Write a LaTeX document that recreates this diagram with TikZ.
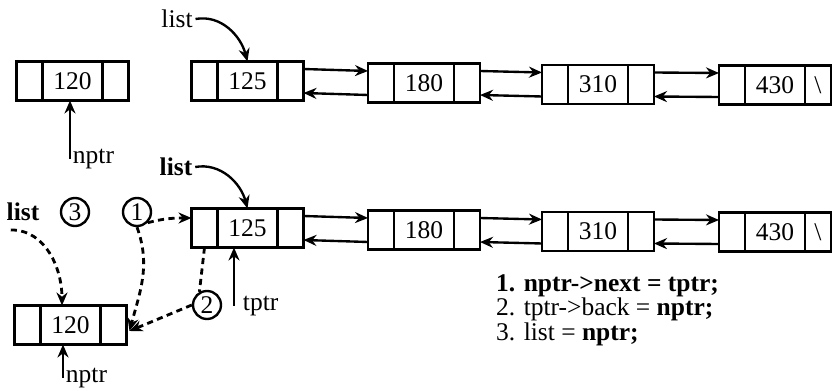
\documentclass[tikz,border=0pt]{standalone}
\usepackage{fontspec}
\setmainfont{Liberation Serif}
\usetikzlibrary{arrows.meta, positioning}
\tikzset{
  every picture/.style={font=\fontsize{14.5}{16}\selectfont, line width=1.35pt},
  datafield/.style={draw, minimum width=1.2cm, minimum height=0.78cm, inner sep=0pt, outer sep=0pt},
  linkfield/.style={draw, minimum width=0.52cm, minimum height=0.78cm, inner sep=0pt, outer sep=0pt},
  ptrname/.style={inner sep=1pt},
  numcircle/.style={draw, circle, minimum size=0.56cm, inner sep=0pt},
  codeblock/.style={anchor=north west, align=left, inner sep=0pt, font=\fontsize{14.5}{12.6}\selectfont},
  arrow/.style={-{Stealth[length=2.6mm, width=2.2mm]}},
  dashline/.style={dash pattern=on 3.5pt off 2.5pt, line width=1.6pt},
  dasharrow/.style={dashline, -{Stealth[length=2.6mm, width=2.2mm]}},
}
% one node of the doubly linked list: back | value | next
\newcommand\dllnode[4]{%
  \node[datafield] (#1) at (#2) {#3};
  \node[linkfield, left=0pt of #1] (#1l) {};
  \node[linkfield, right=0pt of #1] (#1r) {#4};
}
\begin{document}
\begin{tikzpicture}[x=0.02cm, y=-0.02cm]
  \useasboundingbox (0,0) rectangle (832,391);
  % top row: new node and the list
  \dllnode{t120}{72.5,81}{120}{}
  \dllnode{t125}{247.5,81}{125}{}
  \dllnode{t180}{424,83}{180}{}
  \dllnode{t310}{598,84.5}{310}{}
  \dllnode{t430}{775,85}{430}{\textbackslash}
  \draw[arrow] ([yshift=0.24cm]t125r.east) -- ([yshift=0.24cm]t180l.west); \draw[arrow] ([yshift=-0.24cm]t180l.west) -- ([yshift=-0.24cm]t125r.east);
  \draw[arrow] ([yshift=0.24cm]t180r.east) -- ([yshift=0.24cm]t310l.west); \draw[arrow] ([yshift=-0.24cm]t310l.west) -- ([yshift=-0.24cm]t180r.east);
  \draw[arrow] ([yshift=0.24cm]t310r.east) -- ([yshift=0.24cm]t430l.west); \draw[arrow] ([yshift=-0.24cm]t430l.west) -- ([yshift=-0.24cm]t310r.east);
  \node[ptrname] (listt) at (177,19) {list};
  \draw[arrow] (listt.east) to[out=10, in=105] (t125.north);
  \node[ptrname, anchor=west] (nptrt) at (70,159) {nptr};
  \draw[arrow] (nptrt.west) -- (nptrt.west |- t120.south);
  % bottom row: node inserted in front of the list
  \dllnode{b120}{70.5,325}{120}{}
  \dllnode{b125}{247.5,228}{125}{}
  \dllnode{b180}{424,230}{180}{}
  \dllnode{b310}{598,231.5}{310}{}
  \dllnode{b430}{775,232}{430}{\textbackslash}
  \draw[arrow] ([yshift=0.24cm]b125r.east) -- ([yshift=0.24cm]b180l.west); \draw[arrow] ([yshift=-0.24cm]b180l.west) -- ([yshift=-0.24cm]b125r.east);
  \draw[arrow] ([yshift=0.24cm]b180r.east) -- ([yshift=0.24cm]b310l.west); \draw[arrow] ([yshift=-0.24cm]b310l.west) -- ([yshift=-0.24cm]b180r.east);
  \draw[arrow] ([yshift=0.24cm]b310r.east) -- ([yshift=0.24cm]b430l.west); \draw[arrow] ([yshift=-0.24cm]b430l.west) -- ([yshift=-0.24cm]b310r.east);
  \node[ptrname, font=\fontsize{14.5}{16}\selectfont\bfseries] (listb) at (176,167) {list};
  \draw[arrow] (listb.east) to[out=10, in=105] (b125.north);
  \node[ptrname, anchor=west] (tptr) at (240,306) {tptr};
  \draw[arrow] ([xshift=-0.12cm]tptr.west) -- ([xshift=-0.12cm]tptr.west |- b125.south);
  \node[ptrname, anchor=west] (nptrb) at (63,378) {nptr};
  \draw[arrow] (nptrb.west) -- (nptrb.west |- b120.south);
  % steps of the insertion
  \node[ptrname, font=\fontsize{14.5}{16}\selectfont\bfseries] (listl) at (23,212) {list};
  \node[numcircle] (c3) at (75,212) {3};
  \node[numcircle] (c1) at (137,212) {1};
  \node[numcircle] (c2) at (207,305) {2};
  \coordinate (meet) at ([shift={(3,6)}]b120r.east);
  \draw[dasharrow] ([shift={(7,6)}]listl.south west) to[out=0, in=90] ([xshift=-0.17cm]b120.north);
  \draw[dasharrow] (c1.south east) to[out=15, in=180] ([yshift=0.2cm]b125l.west);
  \draw[dasharrow] (c1.south) to[out=-70, in=75] (meet);
  \draw[dashline] (b125l.south) -- (c2.120);
  \draw[dasharrow] (c2.west) -- (meet);
  \node[codeblock] (code) at (495,273) {\textbf{1. nptr->next = tptr;}\\2. tptr->back = \textbf{nptr;}\\3. list = \textbf{nptr;}};
\end{tikzpicture}
\end{document}
